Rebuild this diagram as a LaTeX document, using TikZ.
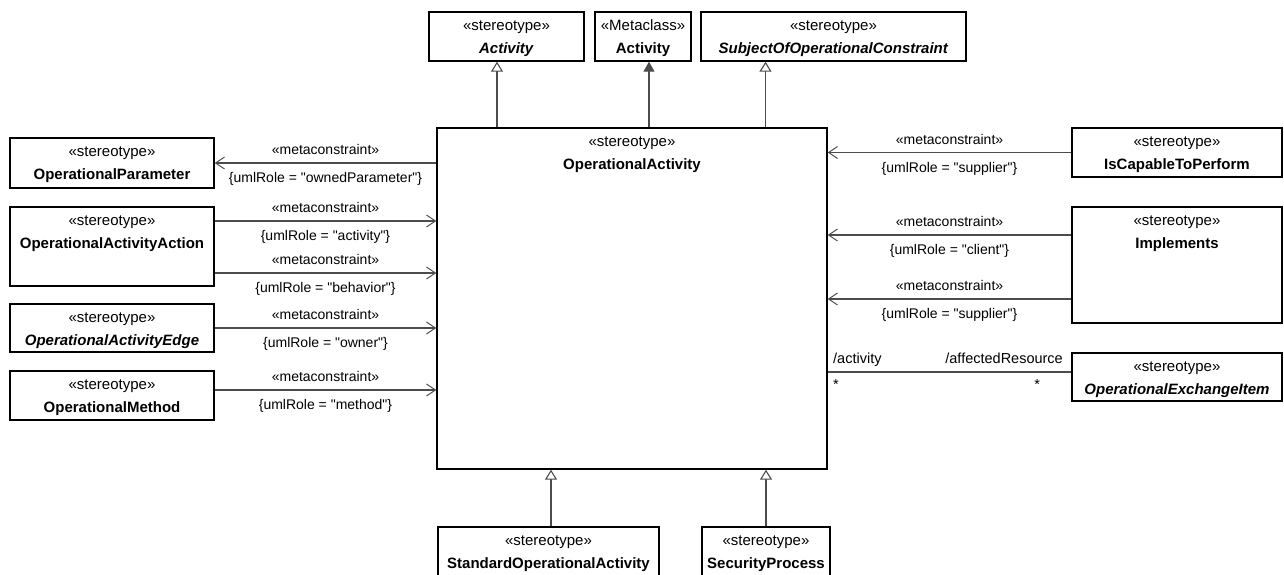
\documentclass[tikz,border=0pt]{standalone}
\usepackage{fontspec}
\setmainfont{Liberation Sans}
\newfontfamily\umlfont{Liberation Sans}
\usepackage{tikz}
\usetikzlibrary{arrows.meta,positioning,calc}
\newcommand{\boxfont}{\umlfont\fontsize{15}{23}\selectfont}
\newcommand{\lblfont}{\umlfont\fontsize{14}{16}\selectfont}
\newcommand{\st}[2]{\strut«#1»\\#2}
\tikzset{
  cls/.style={draw=black,line width=1.3pt,inner sep=0pt,minimum height=49pt},
  stt/.style={align=center,inner sep=0pt,font=\boxfont},
  meta/.style={-{Straight Barb[length=9pt,width=12pt,line width=1pt]},draw=black!70,line width=1.1pt},
  gen/.style={-{Triangle[open,length=10pt,width=12pt,fill=white]},draw=black!70,line width=1.1pt},
  ext/.style={-{Triangle[length=10pt,width=11pt]},draw=black!70,line width=1.1pt},
  assoc/.style={draw=black!70,line width=1.1pt},
  mtop/.style={above=7.5pt,inner sep=0pt,font=\lblfont},
  mbot/.style={below=9pt,inner sep=0pt,font=\lblfont},
  role/.style={inner sep=0pt,font=\umlfont\fontsize{14.5}{16}\selectfont},
}
\begin{document}
\begin{tikzpicture}[x=1pt,y=-1pt]
\useasboundingbox (0,0) rectangle (1284,574);
\clip (0,0) rectangle (1284,574);
\node[cls,minimum width=155pt] (act) at (506.5,36.5) {};
\node[cls,minimum width=96pt] (mcact) at (643,36.5) {};
\node[cls,minimum width=265pt] (subj) at (833.5,36.5) {};
\node[cls,minimum width=390pt,minimum height=341pt] (main) at (632,298.5) {};
\node[cls,minimum width=204pt,minimum height=50pt] (par) at (112,163) {};
\node[cls,minimum width=204pt,minimum height=79pt] (oaa) at (112,246.5) {};
\node[cls,minimum width=204pt,minimum height=48pt] (oae) at (112,328) {};
\node[cls,minimum width=204pt] (meth) at (112,395.5) {};
\node[cls,minimum width=210pt] (icp) at (1177,152.5) {};
\node[cls,minimum width=210pt,minimum height=116pt] (impl) at (1177,265) {};
\node[cls,minimum width=210pt,minimum height=48pt] (oei) at (1177,377) {};
\node[cls,minimum width=221pt] (sopa) at (548.5,551.5) {};
\node[cls,minimum width=128pt] (secp) at (766,551.5) {};
\node[stt,below=2.5pt of act.north] {\st{stereotype}{\textbf{\textit{Activity}}}};
\node[stt,below=2.5pt of mcact.north] {\st{Metaclass}{\textbf{Activity}}};
\node[stt,below=2.5pt of subj.north] {\st{stereotype}{\textbf{\textit{SubjectOfOperationalConstraint}}}};
\node[stt,below=2.5pt of main.north] {\st{stereotype}{\textbf{OperationalActivity}}};
\node[stt,below=2.5pt of par.north] {\st{stereotype}{\textbf{OperationalParameter}}};
\node[stt,below=2.5pt of oaa.north] {\st{stereotype}{\textbf{OperationalActivityAction}}};
\node[stt,below=2.5pt of oae.north] {\st{stereotype}{\textbf{\textit{OperationalActivityEdge}}}};
\node[stt,below=2.5pt of meth.north] {\st{stereotype}{\textbf{OperationalMethod}}};
\node[stt,below=2.5pt of icp.north] {\st{stereotype}{\textbf{IsCapableToPerform}}};
\node[stt,below=2.5pt of impl.north] {\st{stereotype}{\textbf{Implements}}};
\node[stt,below=2.5pt of oei.north] {\st{stereotype}{\textbf{\textit{OperationalExchangeItem}}}};
\node[stt,below=3pt of sopa.north] {\st{stereotype}{\textbf{StandardOperationalActivity}}};
\node[stt,below=3pt of secp.north] {\st{stereotype}{\textbf{SecurityProcess}}};
\coordinate (actfoot) at ([xshift=-9.5pt]act.south);
\coordinate (mcfoot) at ([xshift=6pt]mcact.south);
\coordinate (subjfoot) at ([xshift=-68pt]subj.south);
\coordinate (sopatop) at ([xshift=2.5pt]sopa.north);
\coordinate (oaa1) at ([yshift=25.5pt]oaa.east);
\coordinate (oaa2) at ([yshift=-26.5pt]oaa.east);
\coordinate (methr) at ([yshift=5.5pt]meth.east);
\coordinate (impl1) at ([yshift=30pt]impl.west);
\coordinate (impl2) at ([yshift=-34pt]impl.west);
\coordinate (oeil) at ([yshift=5pt]oei.west);
\draw[gen] (main.north -| actfoot) -- (actfoot);
\draw[ext] (main.north -| mcfoot) -- (mcfoot);
\draw[gen] (main.north -| subjfoot) -- (subjfoot);
\draw[gen] (sopatop) -- (main.south -| sopatop);
\draw[gen] (secp.north) -- (main.south -| secp.north);
\draw[meta] (main.west |- par.east) -- node[mtop] {«metaconstraint»} node[mbot] {\{umlRole = "ownedParameter"\}} (par.east);
\draw[meta] (oaa1) -- node[mtop] {«metaconstraint»} node[mbot] {\{umlRole = "activity"\}} (main.west |- oaa1);
\draw[meta] (oaa2) -- node[mtop] {«metaconstraint»} node[mbot] {\{umlRole = "behavior"\}} (main.west |- oaa2);
\draw[meta] (oae.east) -- node[mtop] {«metaconstraint»} node[mbot] {\{umlRole = "owner"\}} (main.west |- oae.east);
\draw[meta] (methr) -- node[mtop] {«metaconstraint»} node[mbot] {\{umlRole = "method"\}} (main.west |- methr);
\draw[meta] (icp.west) -- node[mtop] {«metaconstraint»} node[mbot] {\{umlRole = "supplier"\}} (main.east |- icp.west);
\draw[meta] (impl1) -- node[mtop] {«metaconstraint»} node[mbot] {\{umlRole = "client"\}} (main.east |- impl1);
\draw[meta] (impl2) -- node[mtop] {«metaconstraint»} node[mbot] {\{umlRole = "supplier"\}} (main.east |- impl2);
\draw[assoc] (main.east |- oeil) -- (oeil)
  node[role,pos=0,anchor=base west,xshift=5pt,yshift=9pt] {/activity}
  node[role,pos=1,anchor=base east,xshift=-8pt,yshift=9pt] {/affectedResource}
  node[role,pos=0,anchor=north west,xshift=5pt,yshift=-7pt] {*}
  node[role,pos=0.86,anchor=north,yshift=-7pt] {*};
\end{tikzpicture}
\end{document}
